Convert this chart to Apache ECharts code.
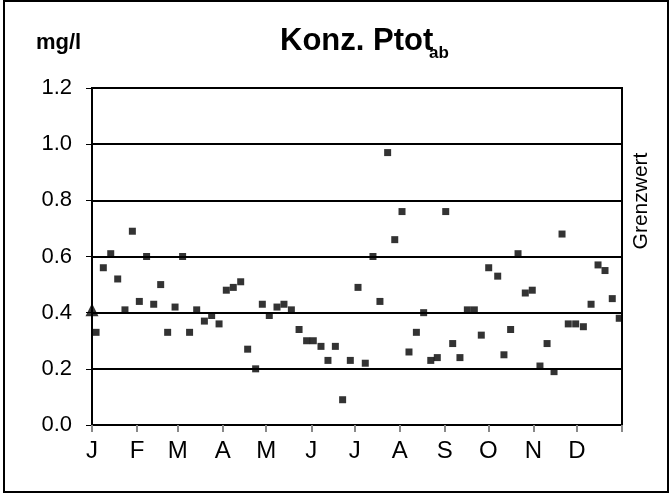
<!DOCTYPE html>
<html>
<head>
<meta charset="utf-8">
<script src="https://cdn.jsdelivr.net/npm/echarts@6/dist/echarts.min.js"></script>
<style>
  html, body { margin: 0; padding: 0; background: #fff; }
  #chart { width: 671px; height: 495px; }
</style>
</head>
<body>
<div id="chart"></div>
<script>
// Probenahmetag (Tag im Jahr) und Konzentration Ptot ab (mg/l)
const sampleDays = [2.8, 7.8, 12.9, 17.7, 22.7, 27.8, 32.6, 37.6, 42.5, 47.3,
  52.1, 57.2, 62.4, 67.2, 72.1, 77.4, 82.4, 87.5, 92.5, 97.3,
  102.4, 107.2, 112.7, 117.3, 122.1, 127.4, 132.2, 137.3, 142.6, 147.8,
  152.4, 157.7, 162.5, 167.6, 172.6, 177.9, 183.2, 188.2, 193.5, 198.3,
  203.6, 208.5, 213.5, 218.3, 223.4, 228.4, 233.3, 237.8, 243.6, 248.4,
  253.4, 258.5, 263.3, 268.1, 273.2, 279.4, 283.7, 288.3, 293.4, 298.4,
  303.2, 308.5, 313.4, 318.2, 323.7, 328, 333.1, 338.4, 343.7, 348.5,
  353.3, 358.3, 363.1]
const ptotValues = [0.33, 0.56, 0.61, 0.52, 0.41, 0.69, 0.44, 0.60, 0.43, 0.50,
  0.33, 0.42, 0.60, 0.33, 0.41, 0.37, 0.39, 0.36, 0.48, 0.49,
  0.51, 0.27, 0.20, 0.43, 0.39, 0.42, 0.43, 0.41, 0.34, 0.30,
  0.30, 0.28, 0.23, 0.28, 0.09, 0.23, 0.49, 0.22, 0.60, 0.44,
  0.97, 0.66, 0.76, 0.26, 0.33, 0.40, 0.23, 0.24, 0.76, 0.29,
  0.24, 0.41, 0.41, 0.32, 0.56, 0.53, 0.25, 0.34, 0.61, 0.47,
  0.48, 0.21, 0.29, 0.19, 0.68, 0.36, 0.36, 0.35, 0.43, 0.57,
  0.55, 0.45, 0.38]
// Dreieck am Jahresanfang
const markerDays = [0]
const markerValues = [0.41]

// Monatsanfaenge und Beschriftung
const monthStarts = [0, 31, 59, 90, 120, 151, 181, 212, 243, 273, 304, 334]
const monthLabels = ['J', 'F', 'M', 'A', 'M', 'J', 'J', 'A', 'S', 'O', 'N', 'D']
const yTicks = [0, 0.2, 0.4, 0.6, 0.8, 1.0, 1.2]

const FONT = '"Liberation Sans", Arial, Helvetica, sans-serif'

const myChart = echarts.init(document.getElementById('chart'))

const option = {
  backgroundColor: '#fff',
  animation: false,
  grid: {
    left: 92,
    right: 49,
    top: 88,
    bottom: 70,
    show: true,
    borderColor: '#000',
    borderWidth: 2,
    backgroundColor: 'transparent'
  },
  xAxis: {
    type: 'value',
    min: 0,
    max: 365,
    axisLine: { show: true, lineStyle: { color: '#000', width: 2 } },
    axisTick: {
      show: true,
      length: 7,
      customValues: monthStarts.concat([365]),
      lineStyle: { color: '#888', width: 2 }
    },
    splitLine: { show: false },
    axisLabel: {
      customValues: monthStarts,
      margin: 14,
      color: '#000',
      fontSize: 24,
      fontFamily: FONT,
      formatter: function (v) {
        const i = monthStarts.indexOf(Math.round(v))
        return i >= 0 ? monthLabels[i] : ''
      }
    }
  },
  yAxis: {
    type: 'value',
    min: 0,
    max: 1.2,
    interval: 0.2,
    axisLine: { show: true, lineStyle: { color: '#000', width: 2 } },
    axisTick: { show: true, length: 6, lineStyle: { color: '#000', width: 1 } },
    splitLine: { show: true, lineStyle: { color: '#000', width: 2 } },
    axisLabel: {
      margin: 20,
      color: '#000',
      fontSize: 22,
      fontFamily: FONT,
      formatter: function (v) {
        const t = yTicks.find(function (y) { return Math.abs(y - v) < 1e-6 })
        return t !== undefined ? t.toFixed(1) : ''
      }
    }
  },
  graphic: [
    // Rahmen um das ganze Bild
    {
      type: 'rect',
      shape: { x: 4, y: 1, width: 664, height: 491 },
      style: { fill: 'none', stroke: '#000', lineWidth: 2 },
      silent: true
    },
    {
      type: 'text',
      x: 36,
      y: 43,
      style: { text: 'mg/l', font: 'bold 22px ' + FONT, fill: '#000', verticalAlign: 'middle' }
    },
    {
      type: 'text',
      x: 280,
      y: 41,
      style: { text: 'Konz. Ptot', font: 'bold 31px ' + FONT, fill: '#000', verticalAlign: 'middle' }
    },
    {
      type: 'text',
      x: 429,
      y: 53,
      style: { text: 'ab', font: 'bold 17px ' + FONT, fill: '#000', verticalAlign: 'middle' }
    },
    {
      type: 'text',
      x: 641,
      y: 201,
      rotation: Math.PI / 2,
      style: { text: 'Grenzwert', font: '21px ' + FONT, fill: '#000', align: 'center', verticalAlign: 'middle' }
    }
  ],
  series: [
    {
      type: 'scatter',
      name: 'Ptot ab',
      symbol: 'rect',
      symbolSize: 7,
      itemStyle: { color: '#000' },
      data: sampleDays.map(function (d, i) { return [d, ptotValues[i]] })
    },
    {
      type: 'scatter',
      name: 'Start',
      symbol: 'triangle',
      symbolSize: 13,
      clip: false,
      itemStyle: { color: '#000' },
      data: markerDays.map(function (d, i) { return [d, markerValues[i]] })
    }
  ]
}

myChart.setOption(option)
</script>
</body>
</html>
